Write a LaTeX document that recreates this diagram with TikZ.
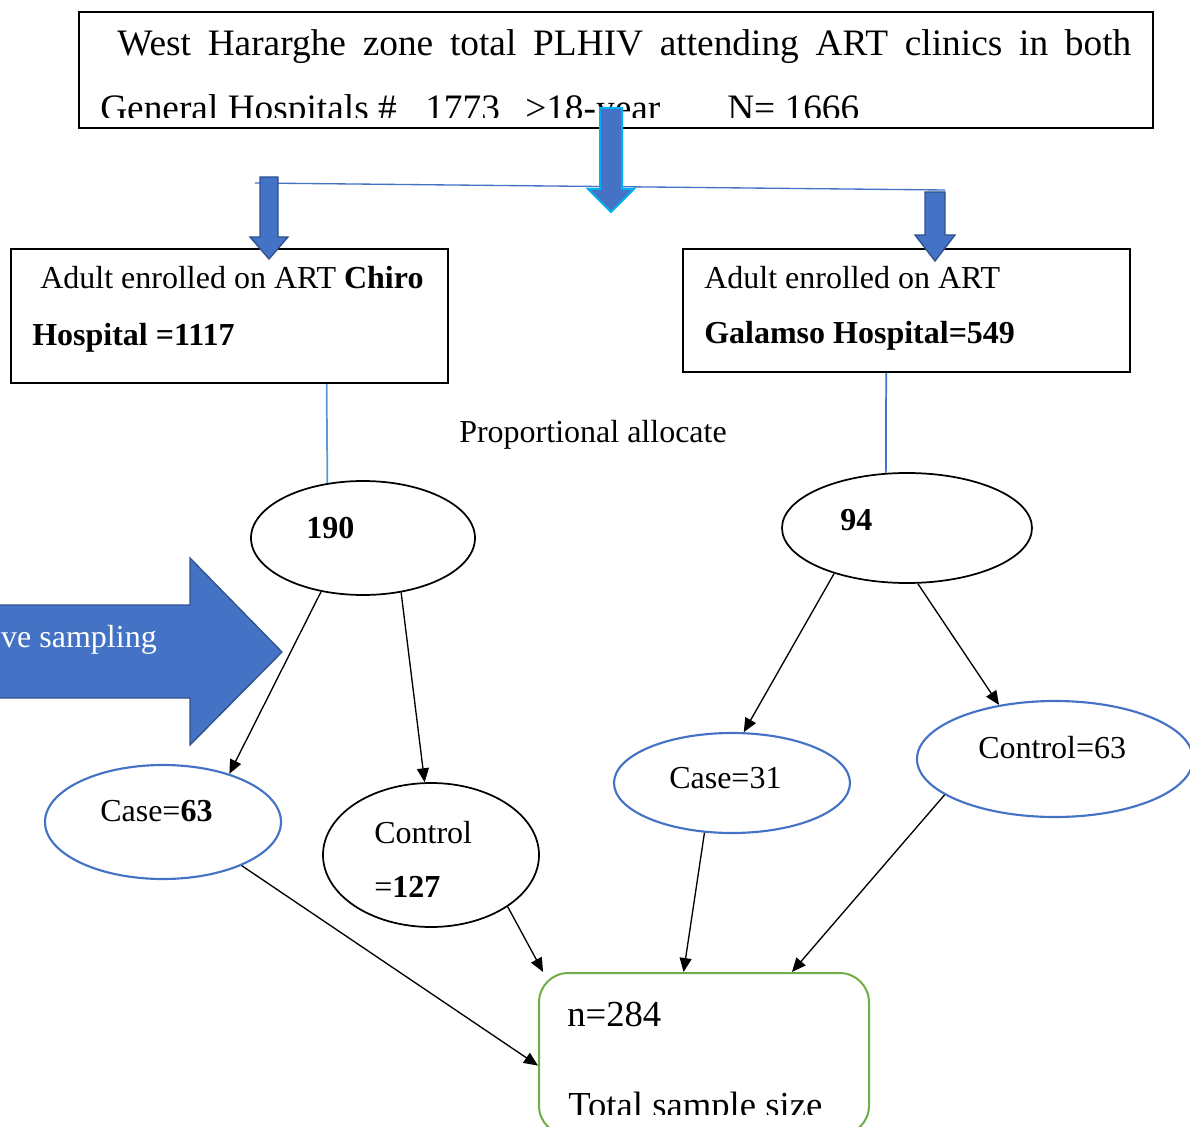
\documentclass[tikz,border=0pt]{standalone}
\usepackage{fontspec}
\setmainfont{Liberation Serif}
\usetikzlibrary{arrows.meta,shapes.geometric}

\definecolor{officeblue}{RGB}{68,114,196}
\definecolor{darkblue}{RGB}{47,82,143}
\definecolor{skyline}{RGB}{91,155,213}
\definecolor{cyanedge}{RGB}{0,176,240}
\definecolor{leafgreen}{RGB}{112,173,71}

\tikzset{
  boxnode/.style={draw, line width=1.5pt, inner sep=0pt},
  ovalblack/.style={ellipse, draw, line width=1.3pt, inner sep=0pt},
  ovalblue/.style={ellipse, draw=officeblue, line width=1.6pt, inner sep=0pt},
  link/.style={line width=1pt, -{Triangle[length=10.5pt,width=9pt]}},
  bluelink/.style={line width=1.3pt},
  blockarrow/.style={fill=officeblue, draw=darkblue, line width=1pt, line join=miter},
  txt/.style={anchor=base west, inner sep=0pt, font=\fontsize{24}{28}\selectfont}
}

\begin{document}
\begin{tikzpicture}[x=0.75pt,y=0.75pt,yscale=-1,xscale=1]
\useasboundingbox (0,0) rectangle (1190,1127);

% Boxes
\node[boxnode, minimum width=805.5pt, minimum height=87pt] (top) at (616,70) {};
\node[boxnode, minimum width=327.75pt, minimum height=100.5pt] (chiro) at (229.5,316) {};
\node[boxnode, minimum width=335.25pt, minimum height=92.25pt] (galamso) at (906.5,310.5) {};
\node[draw=leafgreen, line width=1.5pt, rounded corners=22pt, minimum width=247.5pt, minimum height=121.5pt, inner sep=0pt] (total) at (704,1054) {};

% Ellipses
\node[ovalblack, minimum width=168pt, minimum height=85.5pt] (e190) at (363,538) {};
\node[ovalblack, minimum width=187.5pt, minimum height=82.5pt] (e94) at (907,528) {};
\node[ovalblue, minimum width=177pt, minimum height=85.5pt] (case63) at (163,822) {};
\node[ovalblack, minimum width=162pt, minimum height=108pt] (ctrl127) at (431,855) {};
\node[ovalblue, minimum width=177pt, minimum height=75pt] (case31) at (732,783) {};
\node[ovalblue, minimum width=207pt, minimum height=87pt] (ctrl63) at (1055,759) {};

% Text Node
\begin{scope}
\clip (79,12) rectangle (1153,118);
\node[txt, font=\fontsize{28}{32}\selectfont] (toptxt1) at (117,56) {\makebox[760.5pt][s]{West Hararghe zone total PLHIV attending ART clinics in both}};
\node[txt, font=\fontsize{28}{32}\selectfont] (toptxt2) at (100,121) {\makebox[243.75pt][l]{General Hospitals \#}\makebox[75pt][l]{1773}\makebox[151.5pt][l]{>18-year}N= 1666};
\end{scope}
% Text Node
\node[txt] (chirotxt1) at (40,289) {Adult enrolled on ART \textbf{Chiro}};
\node[txt] (chirotxt2) at (32,345) {\textbf{Hospital =1117}};
\node[txt] (galtxt1) at (704,289) {Adult enrolled on ART};
\node[txt] (galtxt2) at (704,344) {\textbf{Galamso Hospital=549}};
\node[txt] (propo) at (459,442) {Proportional allocate};
\node[txt] (t190) at (306,538) {\textbf{190}};
\node[txt] (t94) at (840,530) {\textbf{94}};
\node[txt] (tcase63) at (100,821) {Case=\textbf{63}};
\node[txt] (tctrl127a) at (374,843) {Control};
\node[txt] (tctrl127b) at (374,897) {=\textbf{127}};
\node[txt] (tcase31) at (669,788) {Case=31};
\node[txt] (tctrl63) at (978,758) {Control=63};
\begin{scope}
\clip (539,973) rectangle (869,1114);
\node[txt, font=\fontsize{27.5}{32}\selectfont] (tn) at (567,1026) {n=284};
\node[txt, font=\fontsize{27.5}{32}\selectfont] (ttotal) at (568,1117) {Total sample size};
\end{scope}

%Straight Lines
\coordinate (splitL) at (255,183);
\coordinate (splitR) at (945,190);
\draw[officeblue, line width=1pt] (splitL) -- (splitR);
\draw[bluelink, skyline] (chiro.-35.6) -- (e190.123);
\draw[bluelink, officeblue] (galamso.252.4) -- (e94.111);

% Block arrows
\draw[blockarrow] (260,177) -- (278,177) -- (278,237) -- (288,237) -- (269,259) -- (250,237) -- (260,237) -- cycle;
\draw[blockarrow] (925,192) -- (945,192) -- (945,235) -- (955,235) -- (935,261) -- (915,235) -- (925,235) -- cycle;
\draw[blockarrow, draw=cyanedge, line width=1.5pt] (600,108) -- (622,108) -- (622,189) -- (634,189) -- (611,212) -- (588,189) -- (600,189) -- cycle;
\draw[blockarrow] (-10,605) -- (190,605) -- (190,558) -- (282,652) -- (190,745) -- (190,698) -- (-10,698) -- cycle;
\node[txt, anchor=base east, text=white] (sampling) at (157,647) {ve sampling};

%Arrows
\draw[link] (e190.232) -- (case63.36);
\draw[link] (e190.-55) -- (ctrl127.95);
\draw[link] (e94.212) -- (case31.77);
\draw[link] (e94.-79) -- (ctrl63.136);
\draw[link] (case63.-29) -- (total.184);
\draw[link] (ctrl127.-34) -- (total.153);
\draw[link] (case31.241) -- (total.104);
\draw[link] (ctrl63.198) -- (total.43);

\end{tikzpicture}
\end{document}
